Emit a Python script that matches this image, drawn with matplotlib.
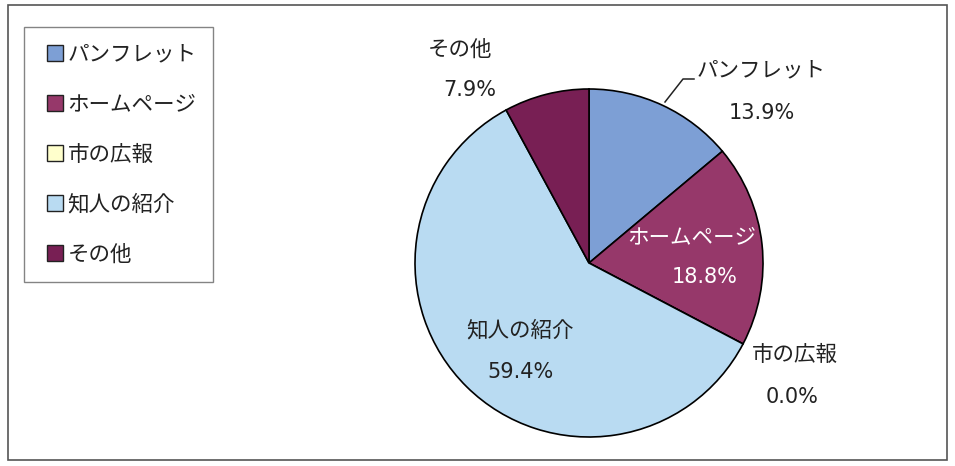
import matplotlib
matplotlib.use("Agg")
import matplotlib.pyplot as plt
from matplotlib.patches import Rectangle, Patch
from matplotlib.legend_handler import HandlerPatch

plt.rcParams['font.family'] = ['Noto Sans CJK JP', 'DejaVu Sans']

categories = ["パンフレット", "ホームページ", "市の広報", "知人の紹介", "その他"]
values = [13.9, 18.8, 0.0, 59.4, 7.9]
colors = ["#7d9fd5", "#96386a", "#ffffcc", "#b9dbf2", "#781f54"]

W, H = 955, 466
fig = plt.figure(figsize=(W / 100, H / 100), dpi=100)
fig.patch.set_facecolor("white")

# outer border
fig.patches.append(Rectangle((8 / W, 1 - 460 / H), (947 - 8) / W, (460 - 5) / H,
                             transform=fig.transFigure, fill=False,
                             edgecolor="#555555", lw=1.2))

cx, cy, r = 589, 263, 174
ax = fig.add_axes([(cx - r) / W, (H - cy - r) / H, 2 * r / W, 2 * r / H])
wedges, _ = ax.pie(values, colors=colors, startangle=90, counterclock=False,
                   radius=1.0, wedgeprops=dict(edgecolor="black", linewidth=1.2))
ax.set_xlim(-1, 1)
ax.set_ylim(-1, 1)
ax.set_aspect("equal")
ax.axis("off")

def d(px, py):
    return (px - cx) / r, (cy - py) / r

txt = "#222222"
fs = 15.5
fs_num = 15
label_pos = [
    (d(761, 70), d(762, 113), txt),
    (d(692, 237), d(705, 277), "white"),
    (d(795, 355), d(792, 397), txt),
    (d(520, 330), d(520, 372), txt),
    (d(460, 50), d(470, 90), txt),
]
for cat, v, (p1, p2, c) in zip(categories, values, label_pos):
    ax.text(*p1, cat, ha="center", va="center", fontsize=fs, color=c, clip_on=False)
    ax.text(*p2, f"{v:.1f}%", ha="center", va="center", fontsize=fs_num, color=c,
            family=["DejaVu Sans"], clip_on=False)

# leader line for パンフレット
pts = [d(665, 102), d(683, 79), d(694, 79)]
ax.plot([p[0] for p in pts], [p[1] for p in pts], color="#222222", lw=1.1, clip_on=False)

SQ = 11.5  # square size in points

def square(legend, orig_handle, xdescent, ydescent, width, height, fontsize):
    return Rectangle((width - xdescent - SQ, -ydescent + (height - SQ) / 2), SQ, SQ)

handles = [Patch(facecolor=c, edgecolor="#222222", linewidth=1.0) for c in colors]
leg = fig.legend(handles, categories, loc="upper left",
                 bbox_to_anchor=(24 / W, 1 - 27 / H), fontsize=fs,
                 frameon=True, fancybox=False, edgecolor="#666666",
                 handlelength=1.05, handleheight=0.7, handletextpad=0.2,
                 labelspacing=1.3, borderpad=0.77, borderaxespad=0,
                 handler_map={Patch: HandlerPatch(patch_func=square)})
leg.get_frame().set_linewidth(1.0)
for t in leg.get_texts():
    t.set_color(txt)

fig.savefig("out.png", dpi=100, facecolor="white")
